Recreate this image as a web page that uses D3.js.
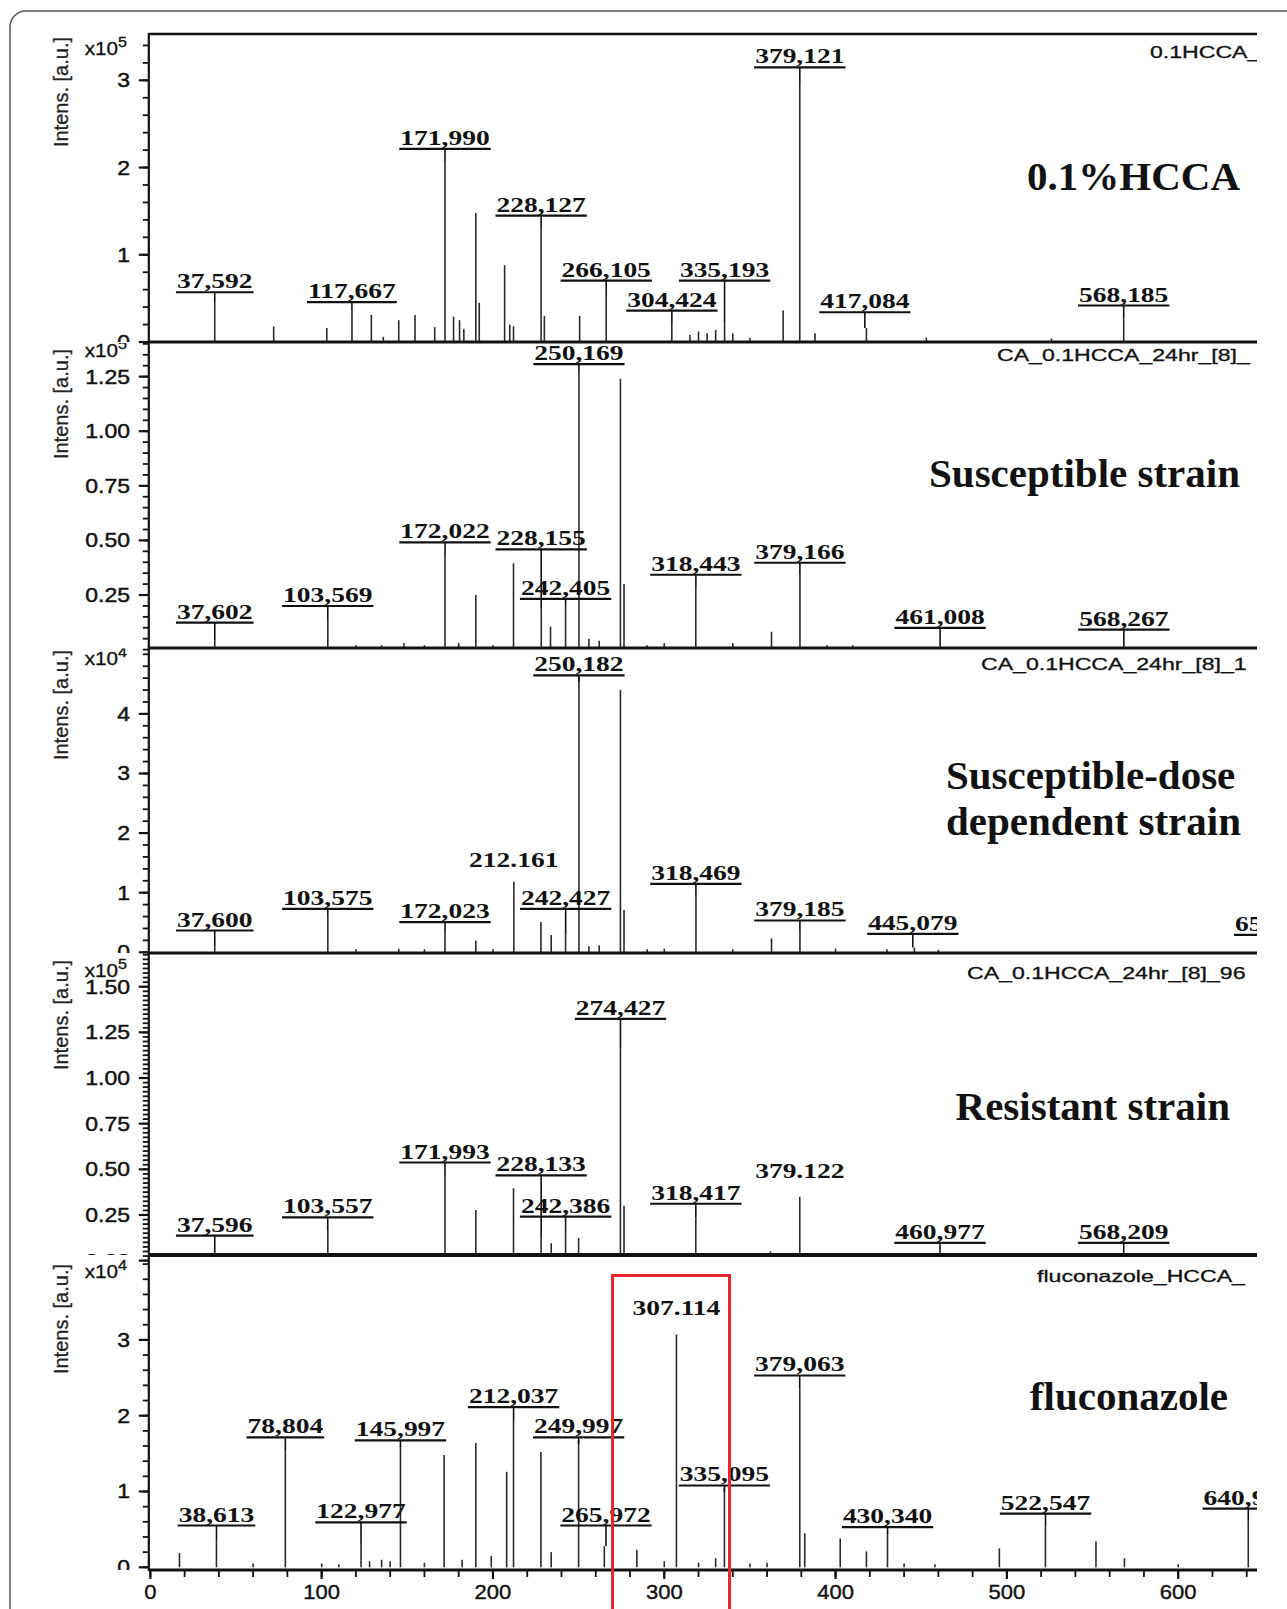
<!DOCTYPE html>
<html>
<head>
<meta charset="utf-8">
<script src="https://cdn.jsdelivr.net/npm/d3@7/dist/d3.min.js"></script>
<style>
html,body{margin:0;padding:0;background:#fff;}
svg{display:block;}
</style>
</head>
<body>
<svg id="chart" width="1287" height="1609"></svg>
<script>
// ================= DATA =================
const xTicks = [0, 100, 200, 300, 400, 500, 600];

// Panel 1 : 0.1% HCCA matrix  (x10^5)
const hccaMz  = [37.6, 72, 103, 117.7, 129, 136, 145, 154.5, 166, 172.0, 177, 180.5, 183, 190, 192, 206.8, 209.8, 212, 228.1, 230, 250.6, 266.1, 304.4, 315, 320, 325, 330, 335.2, 340, 350, 369.4, 379.1, 388, 418, 453, 526, 568.2];
const hccaInt = [0.45, 0.18, 0.16, 0.35, 0.31, 0.06, 0.25, 0.31, 0.17, 2.06, 0.29, 0.25, 0.15, 1.48, 0.45, 0.88, 0.20, 0.18, 1.29, 0.30, 0.30, 0.55, 0.20, 0.08, 0.12, 0.10, 0.14, 0.22, 0.10, 0.05, 0.36, 2.98, 0.10, 0.16, 0.05, 0.04, 0.27];
const hccaLabels = [
  {mz: 37.592, text: "37,592", level: 0.576, u: true},
  {mz: 117.667, text: "117,667", level: 0.462, u: true},
  {mz: 171.990, text: "171,990", level: 2.219, u: true},
  {mz: 228.127, text: "228,127", level: 1.455, u: true},
  {mz: 266.105, text: "266,105", level: 0.710, u: true},
  {mz: 304.424, text: "304,424", level: 0.366, u: true},
  {mz: 335.193, text: "335,193", level: 0.710, u: true},
  {mz: 379.121, text: "379,121", level: 3.154, u: true},
  {mz: 417.084, text: "417,084", level: 0.347, u: true},
  {mz: 568.185, text: "568,185", level: 0.424, u: true}
];

// Panel 2 : susceptible strain (x10^5)
const suscMz  = [37.6, 103.6, 120, 135, 148, 160, 172.0, 180, 190, 200, 212, 228.2, 233.6, 242.4, 250.2, 256, 262, 274.4, 276.5, 290, 300, 318.4, 340, 362.6, 379.2, 395, 410, 461, 568.3];
const suscInt = [0.04, 0.14, 0.02, 0.02, 0.03, 0.02, 0.425, 0.03, 0.25, 0.02, 0.395, 0.19, 0.105, 0.20, 1.28, 0.05, 0.04, 1.24, 0.30, 0.02, 0.03, 0.28, 0.03, 0.082, 0.34, 0.02, 0.02, 0.015, 0.015];
const suscLabels = [
  {mz: 37.602, text: "37,602", level: 0.126, u: true},
  {mz: 103.569, text: "103,569", level: 0.202, u: true},
  {mz: 172.022, text: "172,022", level: 0.493, u: true},
  {mz: 228.155, text: "228,155", level: 0.461, u: true},
  {mz: 242.405, text: "242,405", level: 0.235, u: true},
  {mz: 250.169, text: "250,169", level: 1.310, u: true},
  {mz: 318.443, text: "318,443", level: 0.345, u: true},
  {mz: 379.166, text: "379,166", level: 0.400, u: true},
  {mz: 461.008, text: "461,008", level: 0.102, u: true},
  {mz: 568.267, text: "568,267", level: 0.094, u: true}
];

// Panel 3 : susceptible-dose dependent strain (x10^4)
const sddMz  = [37.6, 103.6, 120, 145, 160, 172.0, 190, 200, 212.2, 228, 234, 242.4, 250.2, 256, 262, 274.4, 276.5, 290, 300, 318.5, 340, 362.6, 379.2, 400, 430, 446, 460, 659.2];
const sddInt = [0.10, 0.60, 0.05, 0.06, 0.05, 0.32, 0.20, 0.05, 1.185, 0.51, 0.29, 0.30, 4.62, 0.10, 0.12, 4.40, 0.71, 0.05, 0.06, 0.93, 0.05, 0.235, 0.32, 0.06, 0.05, 0.08, 0.04, 0.10];
const sddLabels = [
  {mz: 37.600, text: "37,600", level: 0.374, u: true},
  {mz: 103.575, text: "103,575", level: 0.738, u: true},
  {mz: 172.023, text: "172,023", level: 0.513, u: true},
  {mz: 212.161, text: "212.161", level: 1.436, u: false},
  {mz: 242.427, text: "242,427", level: 0.738, u: true},
  {mz: 250.182, text: "250,182", level: 4.653, u: true},
  {mz: 318.469, text: "318,469", level: 1.158, u: true},
  {mz: 379.185, text: "379,185", level: 0.542, u: true},
  {mz: 445.079, text: "445,079", level: 0.319, u: true},
  {mz: 659.2, text: "659,208", level: 0.300, u: true}
];

// Panel 4 : resistant strain (x10^5)
const resMz  = [37.6, 103.6, 120, 145, 160, 172.0, 190, 212, 228.1, 234, 242.4, 250, 262, 274.4, 276.5, 290, 318.4, 340, 362, 379.1, 400, 461, 568.2];
const resInt = [0.03, 0.158, 0.015, 0.02, 0.015, 0.46, 0.277, 0.396, 0.12, 0.095, 0.19, 0.124, 0.03, 1.163, 0.30, 0.02, 0.23, 0.02, 0.05, 0.35, 0.02, 0.01, 0.01];
const resLabels = [
  {mz: 37.596, text: "37,596", level: 0.140, u: true},
  {mz: 103.557, text: "103,557", level: 0.240, u: true},
  {mz: 171.993, text: "171,993", level: 0.540, u: true},
  {mz: 228.133, text: "228,133", level: 0.469, u: true},
  {mz: 242.386, text: "242,386", level: 0.244, u: true},
  {mz: 274.427, text: "274,427", level: 1.327, u: true},
  {mz: 318.417, text: "318,417", level: 0.314, u: true},
  {mz: 379.122, text: "379.122", level: 0.450, u: false},
  {mz: 460.977, text: "460,977", level: 0.100, u: true},
  {mz: 568.209, text: "568,209", level: 0.100, u: true}
];

// Panel 5 : fluconazole (x10^4)
const flcMz  = [17, 38.6, 60, 78.8, 100, 110, 123.0, 128, 135, 140, 146.0, 160, 171.5, 182, 190, 199, 208, 212.0, 228, 234, 250.0, 265.0, 284, 300, 307.1, 320, 330, 335.1, 350, 360, 379.1, 382, 402.7, 418, 430.3, 440, 458, 495.6, 522.5, 552, 568.6, 600, 640.9];
const flcInt = [0.19, 0.36, 0.05, 1.53, 0.05, 0.04, 0.32, 0.08, 0.10, 0.08, 1.60, 0.06, 1.48, 0.10, 1.64, 0.15, 1.26, 1.92, 1.52, 0.20, 1.68, 0.28, 0.23, 0.08, 3.07, 0.06, 0.12, 1.04, 0.05, 0.06, 2.36, 0.45, 0.38, 0.21, 0.46, 0.05, 0.04, 0.25, 0.54, 0.34, 0.12, 0.04, 0.60];
const flcLabels = [
  {mz: 38.613, text: "38,613", level: 0.558, u: true},
  {mz: 78.804, text: "78,804", level: 1.720, u: true},
  {mz: 122.977, text: "122,977", level: 0.600, u: true},
  {mz: 145.997, text: "145,997", level: 1.680, u: true},
  {mz: 212.037, text: "212,037", level: 2.120, u: true},
  {mz: 249.997, text: "249,997", level: 1.720, u: true},
  {mz: 265.972, text: "265,972", level: 0.558, u: true},
  {mz: 307.114, text: "307.114", level: 3.330, u: false},
  {mz: 335.095, text: "335,095", level: 1.086, u: true},
  {mz: 379.063, text: "379,063", level: 2.537, u: true},
  {mz: 430.340, text: "430,340", level: 0.536, u: true},
  {mz: 522.547, text: "522,547", level: 0.716, u: true},
  {mz: 640.9, text: "640,912", level: 0.780, u: true}
];

// ================= LAYOUT =================
const panels = [
  {mz: hccaMz, int: hccaInt, labels: hccaLabels, top: 34, zero: 342, bottom: 342, hi: 3.531, exp: "5",
   major: [0, 1, 2, 3], fmt: d3.format("d"), minor: 0.2,
   tag: "0.1HCCA_", tagX: 1150, tagY: 58, x10Y: 55, titleEnd: 37,
   name: [{t: "0.1%HCCA", x: 1240, y: 190, a: "end"}]},
  {mz: suscMz, int: suscInt, labels: suscLabels, top: 343, zero: 649.6, bottom: 648, hi: 1.404, exp: "5",
   major: [0.25, 0.5, 0.75, 1.0, 1.25], fmt: d3.format(".2f"), minor: 0.05,
   tag: "CA_0.1HCCA_24hr_[8]_", tagX: 997, tagY: 361, x10Y: 357, titleEnd: 349,
   name: [{t: "Susceptible strain", x: 1240, y: 487, a: "end"}]},
  {mz: sddMz, int: sddInt, labels: sddLabels, top: 648.5, zero: 952.3, bottom: 953, hi: 5.097, exp: "4",
   major: [0, 1, 2, 3, 4], fmt: d3.format("d"), minor: 0.2,
   tag: "CA_0.1HCCA_24hr_[8]_1", tagX: 981, tagY: 670, x10Y: 665, titleEnd: 650,
   name: [{t: "Susceptible-dose", x: 946, y: 789, a: "start"}, {t: "dependent strain", x: 946, y: 835, a: "start"}]},
  {mz: resMz, int: resInt, labels: resLabels, top: 953.5, zero: 1260.6, bottom: 1255, hi: 1.682, exp: "5",
   major: [0, 0.25, 0.5, 0.75, 1.0, 1.25, 1.5], fmt: d3.format(".2f"), minor: 0.025,
   tag: "CA_0.1HCCA_24hr_[8]_96", tagX: 967, tagY: 979, x10Y: 977, titleEnd: 960,
   name: [{t: "Resistant strain", x: 1230, y: 1120, a: "end"}]},
  {mz: flcMz, int: flcInt, labels: flcLabels, top: 1255, zero: 1567.3, bottom: 1570, hi: 4.12, exp: "4",
   major: [0, 1, 2, 3], fmt: d3.format("d"), minor: 0.2,
   tag: "fluconazole_HCCA_", tagX: 1037, tagY: 1282, x10Y: 1278, titleEnd: 1264,
   name: [{t: "fluconazole", x: 1228, y: 1410, a: "end"}]}
];

const X0 = 148.8, X1 = 1257;
const SANS = "'Liberation Sans', Arial, Helvetica, sans-serif";
const SERIF = "'Liberation Serif', 'Times New Roman', Times, serif";

const svg = d3.select("#chart");
const defs = svg.append("defs");
const x = d3.scaleLinear().domain([-0.9, 646]).range([X0, X1]);

// outer rounded border
svg.append("rect").attr("x", 10).attr("y", 11).attr("width", 1320).attr("height", 1640)
  .attr("rx", 16).attr("fill", "none").attr("stroke", "#555").attr("stroke-width", 1.5);

panels.forEach((p, i) => {
  const y = d3.scaleLinear().domain([0, p.hi]).range([p.zero, p.top]);

  defs.append("clipPath").attr("id", "pc" + i).append("rect")
    .attr("x", X0).attr("y", p.top).attr("width", X1 - X0).attr("height", p.bottom - p.top);
  defs.append("clipPath").attr("id", "lc" + i).append("rect")
    .attr("x", 0).attr("y", p.top).attr("width", X0).attr("height", p.bottom - p.top);

  const g = svg.append("g").attr("clip-path", `url(#pc${i})`);
  const peaks = p.mz.map((m, j) => ({m, v: p.int[j]}));

  // peaks
  g.selectAll("line.pk").data(peaks).join("line").attr("class", "pk")
    .attr("x1", d => x(d.m)).attr("x2", d => x(d.m))
    .attr("y1", y(0)).attr("y2", d => y(d.v))
    .attr("stroke", "#2a2a2a").attr("stroke-width", 1.6);

  // peak labels
  p.labels.forEach(L => {
    const cx = x(L.mz), ly = y(L.level);
    const base = L.u ? ly - 3.5 : ly;
    const t = g.append("text")
      .attr("transform", `translate(${cx},${base}) scale(1.25,1)`)
      .attr("text-anchor", "middle").attr("font-family", SERIF)
      .attr("font-weight", "bold").attr("font-size", 22).attr("fill", "#111")
      .text(L.text);
    const w = t.node().getComputedTextLength() * 1.25;
    if (L.u) {
      g.append("line").attr("x1", cx - w / 2 - 1).attr("x2", cx + w / 2 + 1)
        .attr("y1", ly + 0.5).attr("y2", ly + 0.5).attr("stroke", "#111").attr("stroke-width", 2.2);
      let best = null;
      peaks.forEach(d => { if (Math.abs(d.m - L.mz) < 1.5) best = d; });
      const yEnd = best ? Math.max(ly + 7, y(best.v)) : ly + 8;
      g.append("line").attr("x1", cx).attr("x2", cx).attr("y1", ly + 1).attr("y2", yEnd)
        .attr("stroke", "#111").attr("stroke-width", 1.6);
    }
  });

  // top-right spectrum tag
  g.append("text").attr("transform", `translate(${p.tagX},${p.tagY}) scale(1.4,1)`)
    .attr("font-family", SANS).attr("font-size", 16.5).attr("fill", "#111")
    .attr("stroke", "#111").attr("stroke-width", 0.3).text(p.tag);

  // panel name (annotation)
  p.name.forEach(n => {
    svg.append("text").attr("x", n.x).attr("y", n.y).attr("text-anchor", n.a)
      .attr("font-family", SERIF).attr("font-weight", "bold").attr("font-size", 41)
      .attr("fill", "#111").text(n.t);
  });

  // y axis ticks
  const ga = svg.append("g");
  const minors = d3.range(0, p.hi + 1e-9, p.minor);
  ga.selectAll("line.mn").data(minors).join("line")
    .attr("x1", X0 - 6).attr("x2", X0).attr("y1", d => y(d)).attr("y2", d => y(d))
    .attr("stroke", "#111").attr("stroke-width", 1.8);
  ga.selectAll("line.mj").data(p.major).join("line")
    .attr("x1", X0 - 10).attr("x2", X0).attr("y1", d => y(d)).attr("y2", d => y(d))
    .attr("stroke", "#111").attr("stroke-width", 2.2);

  const gl = svg.append("g").attr("clip-path", `url(#lc${i})`);
  gl.selectAll("text.tl").data(p.major).join("text")
    .attr("transform", d => `translate(130,${y(d) + 7}) scale(1.15,1)`)
    .attr("text-anchor", "end").attr("font-family", SANS).attr("font-size", 20).attr("fill", "#111")
    .attr("stroke", "#111").attr("stroke-width", 0.45)
    .text(d => p.fmt(d));

  // x10^n
  const tx = gl.append("text").attr("transform", `translate(127,${p.x10Y}) scale(1.15,1)`)
    .attr("text-anchor", "end").attr("font-family", SANS).attr("font-size", 18).attr("fill", "#111")
    .attr("stroke", "#111").attr("stroke-width", 0.3);
  tx.append("tspan").text("x10");
  tx.append("tspan").attr("dy", -8).attr("font-size", 14).text(p.exp);

  // axis title
  gl.append("text").attr("transform", `translate(68,${p.titleEnd}) rotate(-90)`)
    .attr("text-anchor", "end").attr("font-family", SANS).attr("font-size", 20).attr("fill", "#222")
    .attr("stroke", "#222").attr("stroke-width", 0.3)
    .text("Intens. [a.u.]");
});

// frame lines / separators
svg.append("line").attr("x1", X0).attr("x2", X1).attr("y1", 34).attr("y2", 34).attr("stroke", "#111").attr("stroke-width", 2.5);
[342, 648, 953, 1255].forEach((yy, k) => {
  svg.append("line").attr("x1", X0).attr("x2", X1).attr("y1", yy).attr("y2", yy)
    .attr("stroke", "#111").attr("stroke-width", k === 3 ? 4 : 3);
});
svg.append("line").attr("x1", X0).attr("x2", X0).attr("y1", 33).attr("y2", 1571).attr("stroke", "#111").attr("stroke-width", 2.2);

// x axis
const AX = 1570;
svg.append("line").attr("x1", X0).attr("x2", X1).attr("y1", AX).attr("y2", AX).attr("stroke", "#111").attr("stroke-width", 3);
const xMinor = d3.range(0, 646, 20);
svg.selectAll("line.xm").data(xMinor).join("line")
  .attr("x1", d => x(d)).attr("x2", d => x(d)).attr("y1", AX).attr("y2", AX + 7)
  .attr("stroke", "#111").attr("stroke-width", 1.8);
svg.selectAll("line.xj").data(xTicks).join("line")
  .attr("x1", d => x(d)).attr("x2", d => x(d)).attr("y1", AX).attr("y2", AX + 9)
  .attr("stroke", "#111").attr("stroke-width", 2.2);
svg.selectAll("text.xl").data(xTicks).join("text")
  .attr("transform", d => `translate(${x(d)},${1599}) scale(1.1,1)`)
  .attr("text-anchor", "middle").attr("font-family", SANS).attr("font-size", 20).attr("fill", "#111")
  .attr("stroke", "#111").attr("stroke-width", 0.4)
  .text(d => d);

// red highlight box
svg.append("rect").attr("x", 612.5).attr("y", 1275.5).attr("width", 117).attr("height", 400)
  .attr("fill", "none").attr("stroke", "#e8262b").attr("stroke-width", 3);
</script>
</body>
</html>
